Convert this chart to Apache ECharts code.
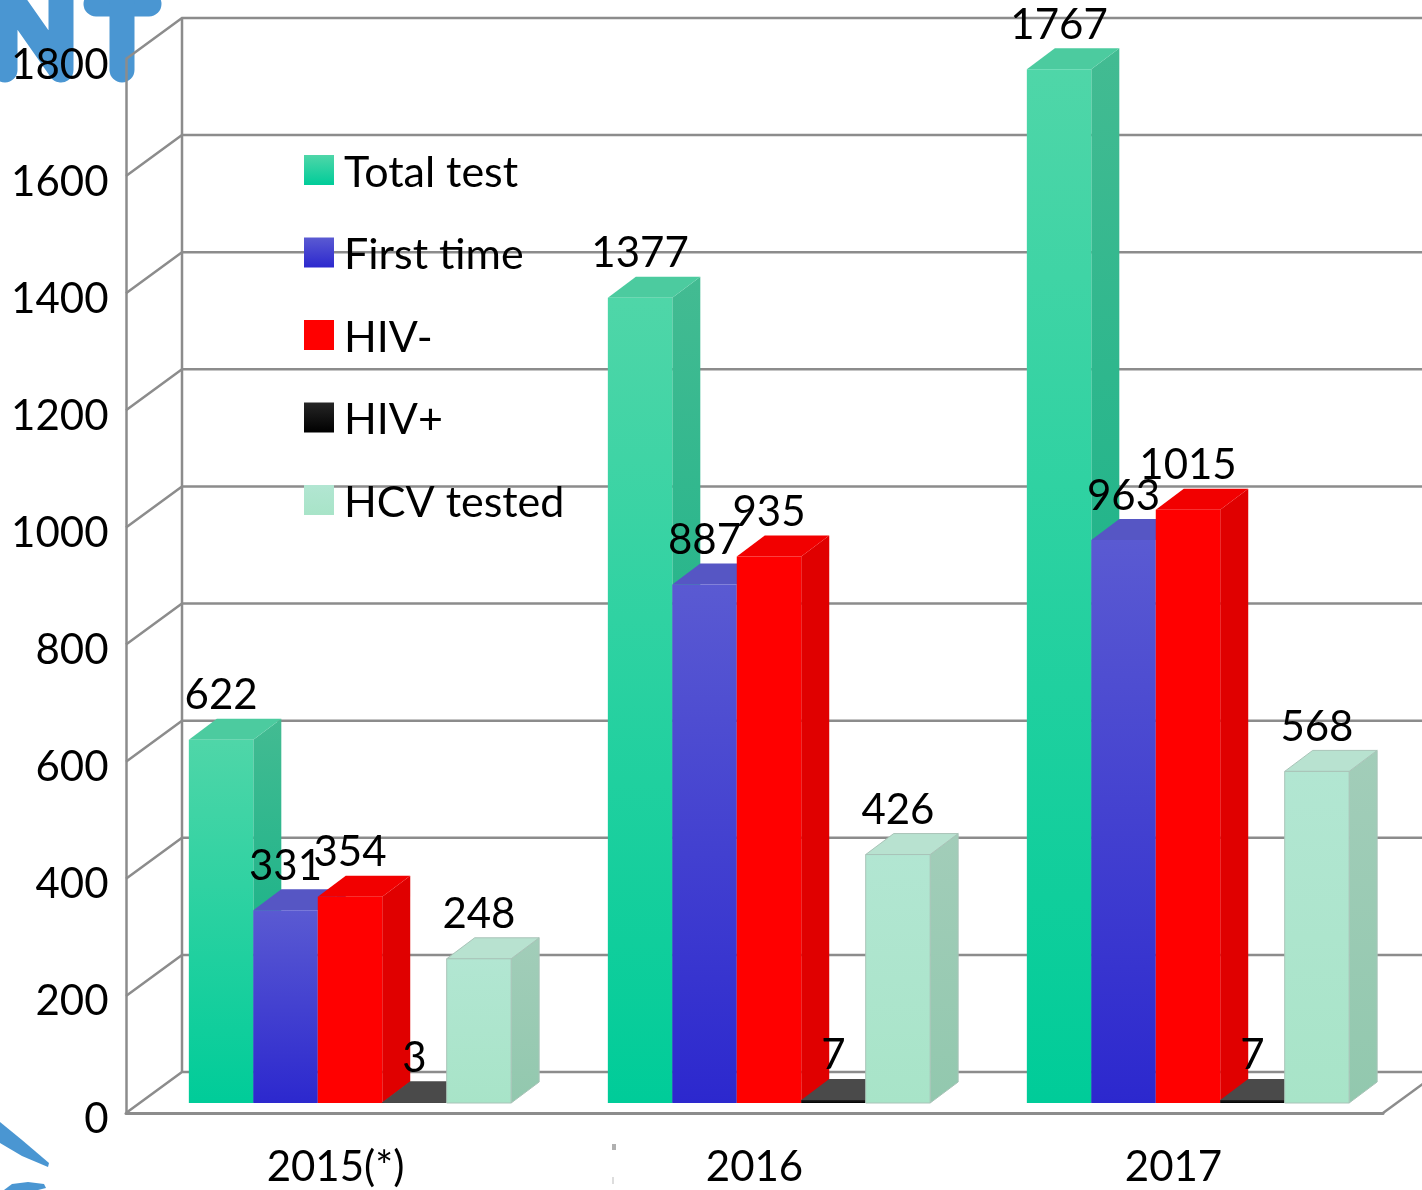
<!DOCTYPE html>
<html>
<head>
<meta charset="utf-8">
<style>html,body{margin:0;padding:0;background:#fff}#c{width:1422px;height:1190px}</style>
<script src="https://cdn.jsdelivr.net/npm/echarts@6/dist/echarts.min.js"></script>
</head>
<body>
<div id="c"></div>
<script>
const categories = ['2015(*)', '2016', '2017'];
const totalTest = [622, 1377, 1767];
const firstTime = [331, 887, 963];
const hivNeg = [354, 935, 1015];
const hivPos = [3, 7, 7];
const hcvTested = [248, 426, 568];
const yTicks = [0, 200, 400, 600, 800, 1000, 1200, 1400, 1600, 1800];
const seriesNames = ['Total test', 'First time', 'HIV-', 'HIV+', 'HCV tested'];
const seriesValues = [totalTest, firstTime, hivNeg, hivPos, hcvTested];
const faceColors = [
  {f0:'#4FD6A8', f1:'#00CC99', t:'#4CCB9F', s0:'#43BB92', s1:'#00AE82', e:null},
  {f0:'#5A5AD2', f1:'#2C28CE', t:'#5656C4', s0:'#4E4EB8', s1:'#2622B0', e:null},
  {f0:'#FF0000', f1:'#FF0000', t:'#F20000', s0:'#E00000', s1:'#E00000', e:null},
  {f0:'#262626', f1:'#000000', t:'#4A4A4A', s0:'#3A3A3A', s1:'#2A2A2A', e:null},
  {f0:'#B2E6D2', f1:'#A8E4C8', t:'#B8E2D0', s0:'#A2CDB9', s1:'#92C8AE', e:'#A9C4B8'}
];
const font = 'Lato';
const fontSize = 42;
const wallColor = '#8C8C8C';
const WALL_DX = 56, WALL_DY = -41, BAR_DX = 28, BAR_DY = -21, BAR_SHIFT_X = 14.5, BAR_SHIFT_Y = -9;

function vGrad(a, b) {
  return {type:'linear', x:0, y:0, x2:0, y2:1, colorStops:[{offset:0,color:a},{offset:1,color:b}]};
}
function renderWall(params, api) {
  const cs = params.coordSys;
  const p = api.coord([0, api.value(1)]);
  const y = p[1], x0 = cs.x, x1 = cs.x + cs.width;
  const ls = {stroke: wallColor, lineWidth: 2.5, fill: null};
  const children = [
    {type:'polyline', shape:{points:[[x0,y],[x0+WALL_DX,y+WALL_DY],[x1+WALL_DX,y+WALL_DY]]}, style:ls, z2:0}
  ];
  if (api.value(1) === 0) {
    children.push({type:'line', shape:{x1:x0+WALL_DX,y1:y+WALL_DY,x2:x0+WALL_DX,y2:cs.y+WALL_DY}, style:ls, z2:0});
    children.push({type:'line', shape:{x1:x1,y1:y,x2:x1+WALL_DX,y2:y+WALL_DY}, style:ls, z2:0});
  }
  return {type:'group', children};
}
function makeRender(si) {
  const c = faceColors[si];
  return function (params, api) {
    const cat = api.value(0), val = api.value(1);
    const band = api.size([1, 0])[0];
    const w = band / 6.5;
    const top = api.coord([cat, val]);
    const base = api.coord([cat, 0]);
    const x0 = top[0] - 2.5 * w + BAR_SHIFT_X + si * w;
    const x1 = x0 + w;
    const yT = top[1] + BAR_SHIFT_Y;
    const yB = base[1] + BAR_SHIFT_Y - 1;
    const z = si + 1;
    const st = c.e ? {stroke:c.e, lineWidth:1} : {};
    return {type:'group', children:[
      {type:'polygon', z2:z, shape:{points:[[x1,yT],[x1+BAR_DX,yT+BAR_DY],[x1+BAR_DX,yB+BAR_DY],[x1,yB]]},
        style:Object.assign({fill:vGrad(c.s0,c.s1)}, st)},
      {type:'polygon', z2:z, shape:{points:[[x0,yT],[x0+BAR_DX,yT+BAR_DY],[x1+BAR_DX,yT+BAR_DY],[x1,yT]]},
        style:Object.assign({fill:c.t}, st)},
      {type:'rect', z2:z, shape:{x:x0,y:yT,width:w,height:yB-yT},
        style:Object.assign({fill:vGrad(c.f0,c.f1)}, st)},
      {type:'text', z2:100, style:{x:(x0+x1)/2, y:yT+BAR_DY-23, text:String(val), fontSize:fontSize, fontFamily:font,
        fill:'#000', align:'center', verticalAlign:'middle'}}
    ]};
  };
}
const blue = '#4A96D2';
const chart = echarts.init(document.getElementById('c'), null, {renderer:'canvas'});
chart.setOption({
  animation:false,
  backgroundColor:'#fff',
  grid:{left:126, top:59, width:1257, height:1054, containLabel:false},
  legend:{
    orient:'vertical', left:304, top:151.5, padding:0, itemWidth:30, itemHeight:30, itemGap:39.5, icon:'rect',
    selectedMode:false,
    formatter:(name)=>'{a|'+name+'}',
    textStyle:{fontFamily:font, fontSize:43, color:'#000', padding:[0,0,0,5],
      rich:{a:{fontFamily:font, fontSize:43, color:'#000', padding:[6,0,0,0]}}},
    data:seriesNames.map((n,i)=>({name:n, itemStyle:{color:vGrad(faceColors[i].f0, faceColors[i].f1)}}))
  },
  xAxis:{type:'category', data:categories,
    axisLine:{show:true, lineStyle:{color:wallColor, width:3}}, axisTick:{show:false},
    axisLabel:{fontFamily:font, fontSize:fontSize, color:'#000', margin:33}},
  yAxis:{type:'value', min:0, max:1800, interval:200, splitLine:{show:false},
    axisLine:{show:true, lineStyle:{color:wallColor, width:2.5}}, axisTick:{show:false},
    axisLabel:{fontFamily:font, fontSize:42, color:'#000', margin:17.5, verticalAlign:'top', lineHeight:12, formatter:(v)=>String(v)}},
  graphic:[
    {type:'polyline', z:-1, shape:{points:[[5,-20],[5,70],[5,-10],[61,70],[61,-20]]}, style:{stroke:blue,lineWidth:25,lineCap:'round',lineJoin:'round',fill:null}},
    {type:'polyline', z:-1, shape:{points:[[96,4],[149,4]]}, style:{stroke:blue,lineWidth:25,lineCap:'round',fill:null}},
    {type:'polyline', z:-1, shape:{points:[[122,4],[122,70]]}, style:{stroke:blue,lineWidth:25,lineCap:'round',fill:null}},
    {type:'polygon', z:-1, shape:{points:[[0,1122],[22,1140],[49,1163],[48,1167],[22,1156],[0,1143]]}, style:{fill:blue}},
    {type:'polygon', z:-1, shape:{points:[[4,1190],[12,1184],[28,1182],[44,1184],[46,1188],[38,1190]]}, style:{fill:blue}},
    {type:'rect', z:-1, shape:{x:612,y:1144,width:4,height:6}, style:{fill:'#B0B0B0'}},
    {type:'rect', z:-1, shape:{x:612,y:1177,width:2,height:7}, style:{fill:'#DDDDDD'}}
  ],
  series:[
    {type:'custom', name:'walls', silent:true, renderItem:renderWall, encode:{x:0,y:1},
      data:yTicks.map(t=>[0,t])}
  ].concat(seriesNames.map((n,i)=>({
    type:'custom', name:n, silent:true, renderItem:makeRender(i), encode:{x:0,y:1},
    data:seriesValues[i].map((v,k)=>[k,v])
  })))
});
</script>
</body>
</html>
